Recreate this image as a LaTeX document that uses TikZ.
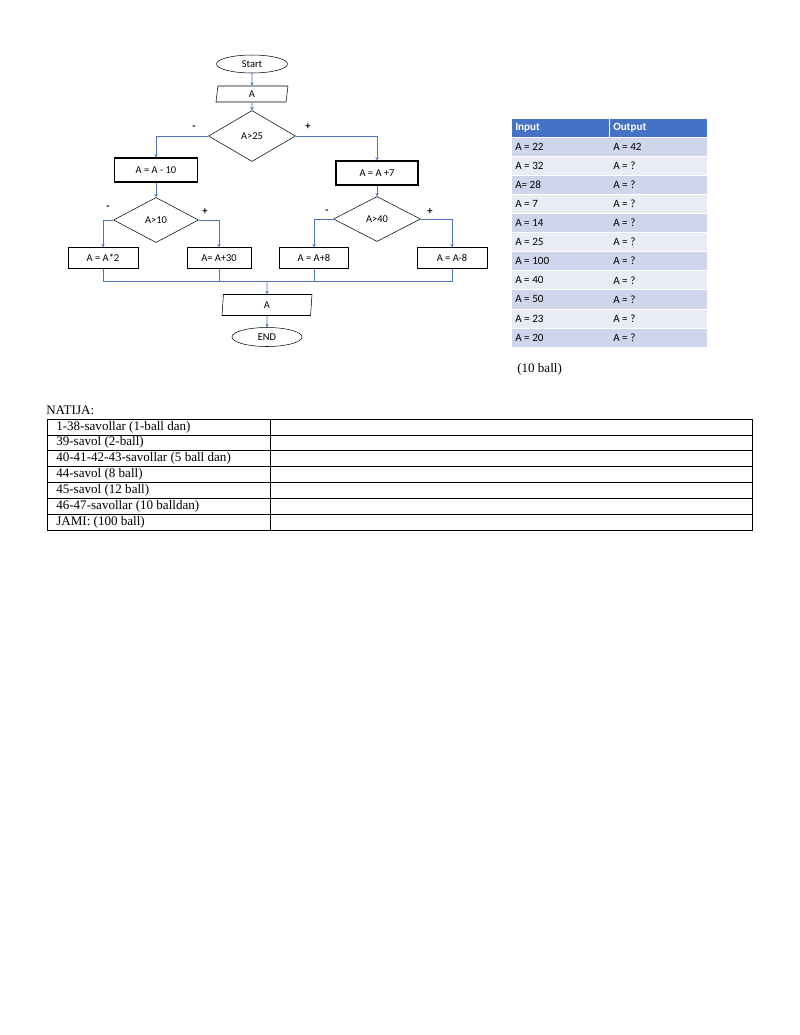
\documentclass[tikz,border=0pt]{standalone}
\usepackage{fontspec}
\setmainfont{Liberation Serif}
\newfontfamily\calfont{Carlito}
\usetikzlibrary{shapes.geometric,arrows.meta}
\definecolor{flowblue}{RGB}{79,114,190}
\definecolor{headblue}{RGB}{68,114,196}
\definecolor{rowdark}{RGB}{207,213,234}
\definecolor{rowlight}{RGB}{233,235,245}
\def\px{0.765pt}
\tikzset{
  every node/.style={inner sep=0pt},
  flowtext/.style={font=\calfont\fontsize{8}{9}\selectfont},
  terminal/.style={flowtext,draw=black,ellipse,minimum width=#1*\px,minimum height=18*\px},
  inout/.style={flowtext,draw=black,trapezium,trapezium left angle=74,trapezium right angle=106,
    trapezium stretches body,minimum width=#1*\px,minimum height=16*\px},
  test/.style={flowtext,draw=black,diamond,minimum width=#1*\px,minimum height=47*\px},
  process/.style={flowtext,draw=black,minimum width=#1*\px,minimum height=21*\px},
  link/.style={draw=flowblue,line width=0.6pt},
  linkarrow/.style={link,-{Stealth[length=2.5pt,width=2.5pt]}},
  sign/.style={font=\calfont\bfseries\fontsize{8}{9}\selectfont},
  celltext/.style={font=\calfont\fontsize{8.5}{10}\selectfont,anchor=west},
  gridtext/.style={font=\fontsize{10}{11}\selectfont,anchor=west}
}
\begin{document}
\begin{tikzpicture}[x=\px,y=-\px]
\useasboundingbox[fill=white] (0,0) rectangle (800,1035);
% flowchart
\node[terminal=71] (start) at (252,64) {Start};
\node[inout=72] (inA) at (252,94) {A};
\node[test=87,minimum height=51*\px] (d25) at (252,136) {A>25};
\node[process=83,line width=0.9pt,minimum height=24*\px] (sub10) at (156,170) {A = A - 10};
\node[process=82,line width=0.9pt,minimum height=24*\px] (add7) at (377,173) {A = A +7};
\node[test=85,minimum height=45*\px] (d10) at (156,220) {A>10};
\node[test=87,minimum height=45*\px] (d40) at (377,219) {A>40};
\node[process=70] (mul2) at (103,258) {A = A*2};
\node[process=64] (add30) at (219,258) {A= A+30};
\node[process=69] (add8) at (314,258) {A = A+8};
\node[process=70] (sub8) at (452,258) {A = A-8};
\node[inout=90,minimum height=21*\px,trapezium left angle=78,trapezium right angle=102] (outA) at (267,305) {A};
\node[terminal=70,minimum height=19*\px] (stop) at (267,337) {END};
\coordinate (bus) at (267,281);
\draw[linkarrow] (start) -- (inA);
\draw[linkarrow] (inA) -- (d25);
\draw[linkarrow] (d25.west) -| (sub10.north);
\draw[linkarrow] (d25.east) -| (add7.north);
\draw[linkarrow] (sub10) -- (d10);
\draw[linkarrow] (add7) -- (d40);
\draw[linkarrow] (d10.west) -| (mul2.north);
\draw[linkarrow] (d10.east) -| (add30.north);
\draw[linkarrow] (d40.west) -| (add8.north);
\draw[linkarrow] (d40.east) -| (sub8.north);
\foreach \b in {mul2,add30,add8,sub8}
  \draw[link] (\b.south) |- (bus);
\draw[linkarrow] (bus) -- (outA);
\draw[linkarrow] (outA) -- (stop);
\node[sign] (m25) at (194,128) {-};
\node[sign] (p25) at (308,127) {+};
\node[sign] (m10) at (108,208) {-};
\node[sign] (p10) at (205,212) {+};
\node[sign] (m40) at (327,212) {-};
\node[sign] (p40) at (430,212) {+};
% input / output table
\def\tl{512}
\def\tm{609}
\def\tr{707}
\def\rh{19.1}
\fill[headblue] (\tl,119) rectangle (\tr,137);
\draw[white,line width=0.6pt] (\tm,119) -- (\tm,137);
\node[celltext,text=white,font=\calfont\bfseries\fontsize{8.5}{10}\selectfont] (hin) at (\tl+3,128) {Input};
\node[celltext,text=white,font=\calfont\bfseries\fontsize{8.5}{10}\selectfont] (hout) at (\tm+4,128) {Output};
\foreach \v [count=\i] in {A = 22,A = 32,A= 28,A = 7,A = 14,A = 25,A = 100,A = 40,A = 50,A = 23,A = 20} {
  \pgfmathsetmacro\ytop{137+(\i-1)*\rh}
  \pgfmathtruncatemacro\odd{mod(\i,2)}
  \ifnum\odd=1 \def\rc{rowdark}\else\def\rc{rowlight}\fi
  \fill[\rc] (\tl,\ytop) rectangle (\tr,\ytop+\rh);
  \draw[white,line width=0.5pt] (\tl,\ytop) -- (\tr,\ytop);
  \node[celltext] (in\i) at (\tl+3,\ytop+0.5*\rh) {\v};
  \ifnum\i=1
    \node[celltext] (out\i) at (\tm+4,\ytop+0.5*\rh) {A = 42};
  \else
    \node[celltext] (out\i) at (\tm+4,\ytop+0.5*\rh) {A = ?};
  \fi
}
\node[gridtext] (ball) at (517,369) {(10 ball)};
% results grid
\node[gridtext] (natija) at (46,410) {NATIJA:};
\def\gl{47}
\def\gm{270}
\def\gr{752}
\def\gt{419}
\def\gh{15.86}
\foreach \t [count=\i] in {1-38-savollar (1-ball dan),39-savol (2-ball),40-41-42-43-savollar (5 ball dan),44-savol (8 ball),45-savol (12 ball),46-47-savollar (10 balldan),JAMI: (100 ball)} {
  \pgfmathsetmacro\ytop{\gt+(\i-1)*\gh}
  \draw[line width=0.5pt] (\gl,\ytop) rectangle (\gr,\ytop+\gh);
  \node[gridtext] (row\i) at (\gl+9,\ytop+0.5*\gh) {\t};
}
\draw[line width=0.6pt] (\gm,\gt) -- (\gm,\gt+7*\gh);
\draw[line width=0.7pt] (\gl,\gt) rectangle (\gr,\gt+7*\gh);
\end{tikzpicture}
\end{document}
